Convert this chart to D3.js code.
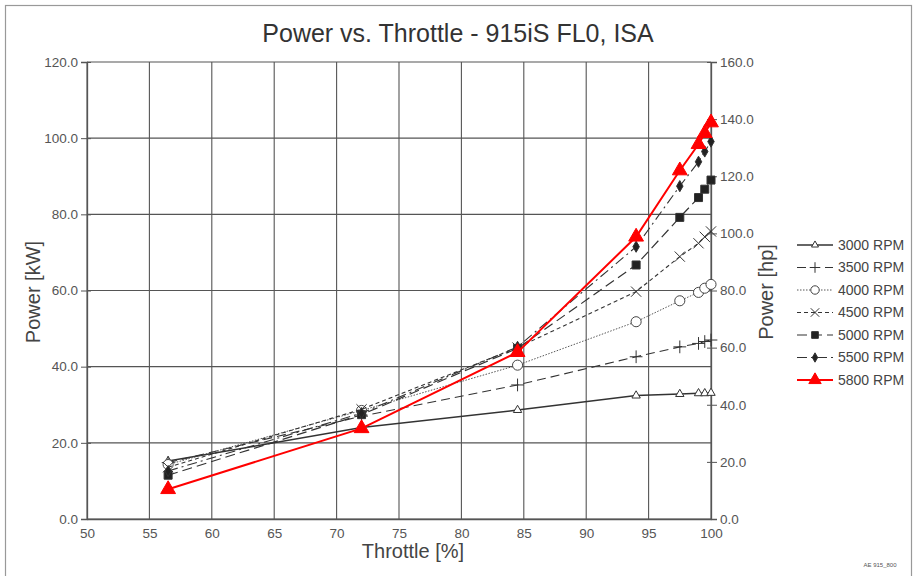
<!DOCTYPE html>
<html>
<head>
<meta charset="utf-8">
<script src="https://cdn.jsdelivr.net/npm/d3@7"></script>
<style>
  body { margin: 0; background: #fff; }
  svg { font-family: "Liberation Sans", Arial, sans-serif; }
</style>
</head>
<body>
<div id="chart-area"></div>
<script>
// Throttle positions [%]
var throttle = [56.5, 72, 84.5, 94, 97.5, 99, 99.5, 100];

// Power [kW] per rpm
var p3000 = [15.2, 24.0, 28.6, 32.4, 32.8, 33.0, 33.0, 33.1];
var p3500 = [14.8, 27.0, 35.2, 42.6, 45.2, 46.1, 46.6, 47.0];
var p4000 = [14.3, 28.5, 40.4, 51.8, 57.3, 59.5, 60.6, 61.6];
var p4500 = [13.6, 28.8, 45.0, 59.7, 68.9, 72.4, 74.1, 75.5];
var p5000 = [11.5, 27.4, 44.8, 66.7, 79.2, 84.4, 86.6, 89.0];
var p5500 = [12.6, 27.8, 45.2, 71.5, 87.4, 93.8, 96.5, 99.1];
var p5800 = [7.8, 23.8, 43.8, 74.1, 91.5, 98.4, 101.3, 104.1];

var seriesNames = ["3000 RPM", "3500 RPM", "4000 RPM", "4500 RPM", "5000 RPM", "5500 RPM", "5800 RPM"];
var seriesValues = [p3000, p3500, p4000, p4500, p5000, p5500, p5800];

// tick labels
var xTicks = [50, 55, 60, 65, 70, 75, 80, 85, 90, 95, 100];
var kwTicks = [0, 20, 40, 60, 80, 100, 120];
var hpTicks = [0, 20, 40, 60, 80, 100, 120, 140, 160];

// styles per series
var styles = [
    { symbol: d3.symbolTriangle2, fill: "#fff", color: "#333", dash: null, width: 1.5, size: 50 },
    { symbol: d3.symbolPlus, fill: "none", color: "#333", dash: "9,5", width: 1.1, size: 55 },
    { symbol: d3.symbolCircle, fill: "#fff", color: "#444", dash: "1.5,1.5", width: 0.9, size: 80 },
    { symbol: d3.symbolTimes, fill: "none", color: "#333", dash: "4,3", width: 1.1, size: 70 },
    { symbol: d3.symbolSquare, fill: "#222", color: "#333", dash: "10,5", width: 1.2, size: 64 },
    { symbol: d3.symbolDiamond, fill: "#222", color: "#333", dash: "10,4,2,4", width: 1.1, size: 36 },
    { symbol: d3.symbolTriangle, fill: "#f00", color: "#f00", dash: null, width: 2, size: 95 }
];

var W = 917, H = 576;
var plotLeft = 87, plotRight = 711, plotTop = 62, plotBottom = 519;

var svg = d3.select("#chart-area")
    .append("svg")
    .attr("width", W)
    .attr("height", H);

// outer frame
svg.append("rect")
    .attr("x", 5.5).attr("y", 5.5)
    .attr("width", 906).attr("height", 590)
    .attr("fill", "#fff")
    .attr("stroke", "#999")
    .attr("stroke-width", 1.2);

var xScale = d3.scaleLinear().domain([50, 100]).range([plotLeft, plotRight]);
var yScale = d3.scaleLinear().domain([0, 120]).range([plotBottom, plotTop]);
var hpScale = d3.scaleLinear().domain([0, 160]).range([plotBottom, plotTop]);

// grid
svg.append("g")
    .attr("class", "grid")
    .selectAll("line")
    .data(xTicks)
    .enter()
    .append("line")
    .attr("x1", function(d) { return xScale(d); })
    .attr("x2", function(d) { return xScale(d); })
    .attr("y1", plotTop).attr("y2", plotBottom)
    .attr("stroke", "#555").attr("stroke-width", 1.1);

svg.append("g")
    .attr("class", "grid")
    .selectAll("line")
    .data(kwTicks)
    .enter()
    .append("line")
    .attr("x1", plotLeft).attr("x2", plotRight)
    .attr("y1", function(d) { return yScale(d); })
    .attr("y2", function(d) { return yScale(d); })
    .attr("stroke", "#555").attr("stroke-width", 1.1);

// axes
var fmt = d3.format(".1f");

var xAxis = svg.append("g")
    .attr("transform", "translate(0," + plotBottom + ")")
    .call(d3.axisBottom(xScale).tickValues(xTicks).tickSize(0).tickPadding(9));

var yAxis = svg.append("g")
    .attr("transform", "translate(" + plotLeft + ",0)")
    .call(d3.axisLeft(yScale).tickValues(kwTicks).tickFormat(fmt).tickSize(6).tickPadding(3));

var hpAxis = svg.append("g")
    .attr("transform", "translate(" + plotRight + ",0)")
    .call(d3.axisRight(hpScale).tickValues(hpTicks).tickFormat(fmt).tickSize(6).tickPadding(3));

[xAxis, yAxis, hpAxis].forEach(function(a) {
    a.select(".domain").attr("stroke", "#555").attr("stroke-width", 1.3);
    a.selectAll(".tick line").attr("stroke", "#555");
    a.selectAll("text").attr("fill", "#555").style("font-size", "13.5px");
});
yAxis.selectAll(".tick line").attr("x2", 4).attr("x1", -6);
hpAxis.selectAll(".tick line").attr("x1", -4).attr("x2", 6);

// titles
svg.append("text")
    .attr("x", 458).attr("y", 42)
    .attr("text-anchor", "middle")
    .attr("fill", "#333")
    .style("font-size", "25px")
    .text("Power vs. Throttle - 915iS FL0, ISA");

svg.append("text")
    .attr("transform", "translate(40,292) rotate(-90)")
    .attr("text-anchor", "middle")
    .attr("fill", "#444")
    .style("font-size", "20px")
    .text("Power [kW]");

svg.append("text")
    .attr("transform", "translate(773,292) rotate(-90)")
    .attr("text-anchor", "middle")
    .attr("fill", "#444")
    .style("font-size", "20px")
    .text("Power [hp]");

svg.append("text")
    .attr("x", 413).attr("y", 558)
    .attr("text-anchor", "middle")
    .attr("fill", "#444")
    .style("font-size", "20px")
    .text("Throttle [%]");

svg.append("text")
    .attr("x", 880).attr("y", 567)
    .attr("text-anchor", "middle")
    .attr("fill", "#555")
    .style("font-size", "6px")
    .text("AE 915_800");

// series
var line = d3.line()
    .x(function(d) { return xScale(d.x); })
    .y(function(d) { return yScale(d.y); });

seriesValues.forEach(function(vals, i) {
    var st = styles[i];
    var pts = vals.map(function(v, j) { return { x: throttle[j], y: v }; });
    var g = svg.append("g").attr("class", "series");

    g.append("path")
        .datum(pts)
        .attr("d", line)
        .attr("fill", "none")
        .attr("stroke", st.color)
        .attr("stroke-width", st.width)
        .attr("stroke-dasharray", st.dash);

    g.selectAll("path.mark")
        .data(pts)
        .enter()
        .append("path")
        .attr("class", "mark")
        .attr("transform", function(d) {
            return "translate(" + xScale(d.x) + "," + yScale(d.y) + ")";
        })
        .attr("d", d3.symbol().type(st.symbol).size(st.size))
        .attr("fill", st.fill)
        .attr("stroke", st.color)
        .attr("stroke-width", 1);
});

// legend
var legend = svg.append("g")
    .attr("transform", "translate(797,245)");

var rows = legend.selectAll("g.row")
    .data(seriesNames)
    .enter()
    .append("g")
    .attr("class", "row")
    .attr("transform", function(d, i) { return "translate(0," + (i * 22.5) + ")"; });

rows.append("line")
    .attr("x1", 0).attr("x2", 36)
    .attr("stroke", function(d, i) { return styles[i].color; })
    .attr("stroke-width", function(d, i) { return styles[i].width; })
    .attr("stroke-dasharray", function(d, i) { return styles[i].dash; });

rows.append("path")
    .attr("transform", "translate(18,0)")
    .attr("d", function(d, i) { return d3.symbol().type(styles[i].symbol).size(styles[i].size * 0.7)(); })
    .attr("fill", function(d, i) { return styles[i].fill; })
    .attr("stroke", function(d, i) { return styles[i].color; })
    .attr("stroke-width", 1);

rows.append("text")
    .attr("x", 41)
    .attr("dy", "0.35em")
    .attr("fill", "#444")
    .style("font-size", "14px")
    .text(function(d) { return d; });
</script>
</body>
</html>
